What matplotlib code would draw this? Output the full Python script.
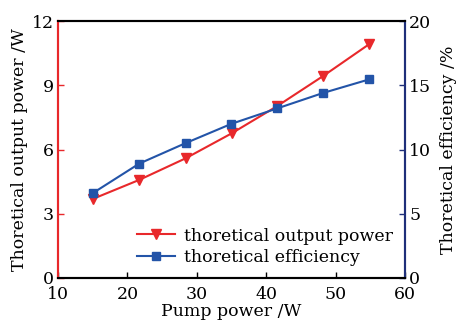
import matplotlib
matplotlib.use("Agg")
import matplotlib.pyplot as plt

pump = [15.0, 21.7, 28.4, 35.0, 41.6, 48.2, 54.8]
power = [3.69, 4.58, 5.59, 6.75, 8.03, 9.43, 10.91]
eff = [6.6, 8.9, 10.5, 12.0, 13.2, 14.4, 15.45]

red = "#e8282b"
blue = "#2354a8"
navy = "#1f2f7a"

plt.rcParams['font.family'] = ['DejaVu Serif']

fig = plt.figure(figsize=(4.61, 3.27), dpi=100)
ax = fig.add_axes([58/461, 1-278/327, (405-58)/461, (278-21)/327])
ax2 = ax.twinx()

l1, = ax.plot(pump, power, color=red, marker='v', markersize=7, lw=1.5)
l2, = ax2.plot(pump, eff, color=blue, marker='s', markersize=6, lw=1.5)

ax.set_xlim(10, 60)
ax.set_ylim(0, 12)
ax2.set_ylim(0, 20)
ax.set_xticks([10, 20, 30, 40, 50, 60])
ax.set_yticks([0, 3, 6, 9, 12])
ax2.set_yticks([0, 5, 10, 15, 20])

fs = 12.5
ax.tick_params(axis='both', direction='in', labelsize=fs, length=4, width=1)
ax.tick_params(axis='y', colors=red, labelcolor='black', pad=3)
ax.tick_params(axis='x', pad=6)
ax2.tick_params(axis='y', direction='in', labelsize=fs, length=4, width=1, colors=navy, labelcolor='black', pad=3)

for a in (ax, ax2):
    a.spines['left'].set_color(red)
    a.spines['right'].set_color(navy)
    a.spines['top'].set_color('black')
    a.spines['bottom'].set_color('black')
    for s in a.spines.values():
        s.set_linewidth(1.5)

ax.set_xlabel("Pump power /W", fontsize=fs, labelpad=0)
ax.set_ylabel("Thoretical output power /W", fontsize=fs, labelpad=3)
ax2.set_ylabel("Thoretical efficiency /%", fontsize=fs, labelpad=6)

ax.legend([l1, l2], ["thoretical output power", "thoretical efficiency"],
          loc='lower right', frameon=False, fontsize=fs,
          handlelength=2.2, handletextpad=0.5, labelspacing=0.25,
          borderaxespad=0.3, bbox_to_anchor=(1.0, 0.0))

fig.savefig("out.png", dpi=100)
